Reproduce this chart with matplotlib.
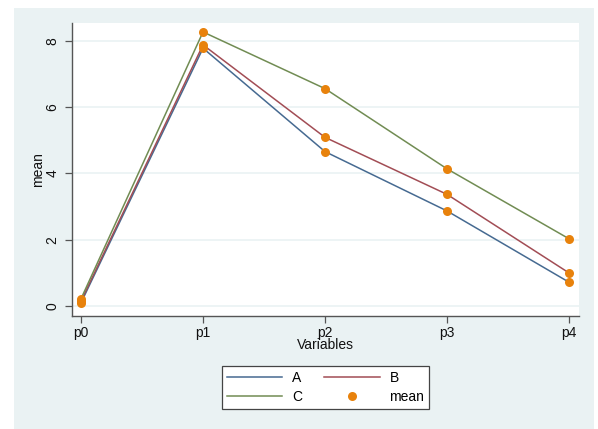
import matplotlib
matplotlib.use("Agg")
import matplotlib.pyplot as plt
from matplotlib.lines import Line2D
from matplotlib.patches import Rectangle

plt.rcParams["font.family"] = ["Liberation Sans", "DejaVu Sans"]

# data
variables = ["p0", "p1", "p2", "p3", "p4"]
series_a = [0.10, 7.78, 4.66, 2.87, 0.72]
series_b = [0.15, 7.88, 5.09, 3.37, 1.00]
series_c = [0.22, 8.27, 6.56, 4.14, 2.03]
yticks = [0, 2, 4, 6, 8]

W, H = 598, 429
fig = plt.figure(figsize=(W / 100, H / 100), dpi=100)
fig.patch.set_facecolor("white")

# Stata-like outer background
fig.patches.append(Rectangle((14 / W, 0), (594 - 14) / W, (429 - 8) / H,
                             transform=fig.transFigure, facecolor="#eaf2f3",
                             edgecolor="none", zorder=-10))


def px_axes(l, t, r, b):
    return fig.add_axes([l / W, 1 - b / H, (r - l) / W, (b - t) / H])


ax = px_axes(72, 23, 579, 316)
ax.set_facecolor("white")

x = list(range(len(variables)))
colors = {"A": "#466a91", "B": "#a24d55", "C": "#718c53"}
ax.plot(x, series_a, color=colors["A"], lw=1.1, zorder=3)
ax.plot(x, series_b, color=colors["B"], lw=1.1, zorder=3)
ax.plot(x, series_c, color=colors["C"], lw=1.1, zorder=3)
for s in (series_a, series_b, series_c):
    ax.plot(x, s, "o", color="#e8820c", ms=6.5, mec="none", zorder=4)

ax.set_xlim(-0.074, 4.082)
ax.set_ylim(-0.30, 8.54)
ax.set_xticks(x)
ax.set_xticklabels(variables, fontsize=10)
ax.set_yticks(yticks)
ax.set_yticklabels([str(v) for v in yticks], fontsize=10, rotation=90, va="center")
ax.grid(axis="y", color="#eaf2f3", lw=1.2)
ax.set_axisbelow(True)

for side in ("top", "right"):
    ax.spines[side].set_visible(False)
for side in ("left", "bottom"):
    ax.spines[side].set_color("#555555")
    ax.spines[side].set_linewidth(1.0)
ax.tick_params(axis="both", direction="out", length=5, width=0.9,
               color="#555555", labelcolor="#111111")
ax.tick_params(axis="x", pad=2)
ax.tick_params(axis="y", pad=4)

ax.set_xlabel("Variables", fontsize=10, labelpad=-1, color="#111111")
ax.set_ylabel("mean", fontsize=10, labelpad=0, color="#111111")

# legend filled column-wise: A, C | B, mean -> rows "A B" and "C mean"
handles = [
    Line2D([], [], color=colors["A"], lw=1.1),
    Line2D([], [], color=colors["C"], lw=1.1),
    Line2D([], [], color=colors["B"], lw=1.1),
    Line2D([], [], ls="none", marker="o", color="#e8820c", ms=6.5, mec="none"),
]
labels = ["A", "C", "B", "mean"]
leg = fig.legend(handles, labels, ncol=2, loc="center",
                 bbox_to_anchor=((221 + 430) / 2 / W, 1 - (364 + 411) / 2 / H),
                 fontsize=10, frameon=True, fancybox=False, handlelength=4.0,
                 columnspacing=1.6, handletextpad=0.7, borderpad=0.35,
                 labelspacing=0.35, framealpha=1)
leg.get_frame().set_edgecolor("#444444")
leg.get_frame().set_linewidth(0.9)
leg.get_frame().set_facecolor("white")

fig.savefig("out.png", dpi=100, facecolor=fig.get_facecolor())
